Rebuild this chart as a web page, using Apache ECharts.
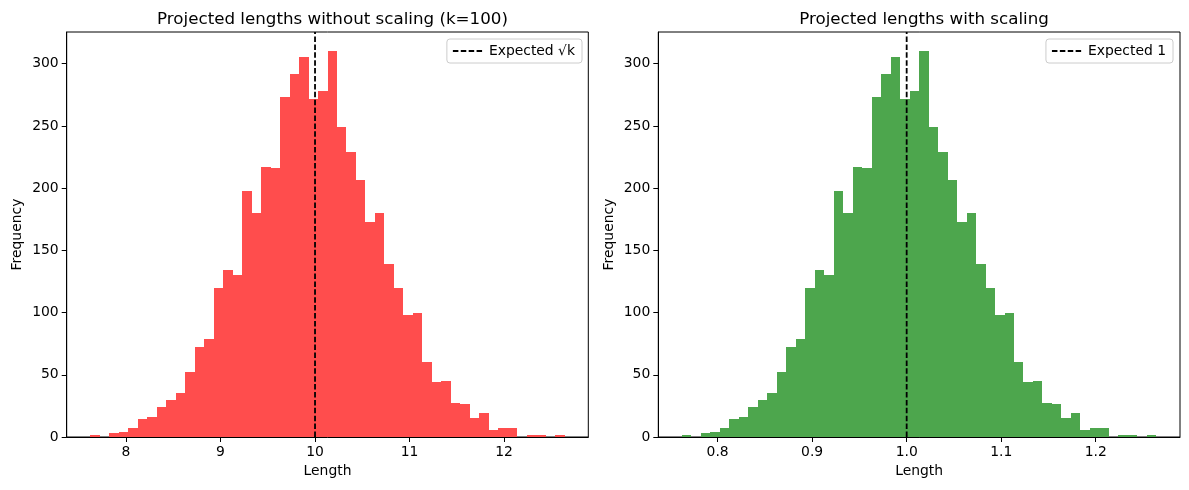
<!DOCTYPE html>
<html>
<head>
<meta charset="utf-8">
<script src="https://cdn.jsdelivr.net/npm/echarts@6/dist/echarts.min.js"></script>
<style>
  html, body { margin: 0; padding: 0; background: #fff; }
  #chart { width: 1189px; height: 490px; }
</style>
</head>
<body>
<div id="chart"></div>
<script>
  // histogram counts, 50 bins (same samples, right panel is divided by sqrt(k)=10)
  var counts = [1, 0, 3, 4, 7, 14, 16, 24, 29, 35,
    52, 72, 78, 119, 134, 130, 197, 180, 217, 216,
    273, 291, 305, 271, 278, 310, 249, 229, 206, 172,
    180, 139, 119, 98, 99, 60, 44, 45, 27, 26,
    15, 19, 5, 7, 7, 0, 1, 1, 0, 1];
  var rawStart = 7.623, rawWidth = 0.10036;
  var scaledStart = 0.7623, scaledWidth = 0.010036;
  var rawTicks = [8, 9, 10, 11, 12];
  var scaledTicks = [0.8, 0.9, 1.0, 1.1, 1.2];
  var yTicks = [0, 50, 100, 150, 200, 250, 300];
  var rawExpected = 10, scaledExpected = 1;
  var titles = ['Projected lengths without scaling (k=100)', 'Projected lengths with scaling'];
  var legendNames = ['Expected \u221ak', 'Expected 1'];

  var FONT = 'DejaVu Sans';
  var chart = echarts.init(document.getElementById('chart'), null, { renderer: 'canvas' });

  function bins(start, width) {
    return counts.map(function (c, i) {
      return [start + i * width, start + (i + 1) * width, c];
    });
  }

  function xRange(start, width) {
    var lo = start, hi = start + counts.length * width;
    var pad = 0.05 * (hi - lo);
    return [lo - pad, hi + pad];
  }

  var yMax = Math.max.apply(null, counts) * 1.05;

  // one rect per bin; edges snapped to whole pixels so neighbours touch without seams
  function renderBar(params, api) {
    if (!api.value(2)) return null;
    var p0 = api.coord([api.value(0), api.value(2)]);
    var p1 = api.coord([api.value(1), 0]);
    var x0 = Math.round(p0[0]), x1 = Math.round(p1[0]);
    var top = Math.floor(p0[1]);
    return {
      type: 'rect',
      shape: { x: x0, y: top, width: x1 - x0, height: p1[1] - top },
      style: api.style()
    };
  }

  function xAxis(idx, range, ticks, fmt) {
    return {
      type: 'value', gridIndex: idx, min: range[0], max: range[1],
      name: 'Length', nameLocation: 'middle', nameGap: 27,
      nameTextStyle: { fontFamily: FONT, fontSize: 13.9, color: '#000' },
      axisLine: { show: true, lineStyle: { color: '#000', width: 1 } },
      axisTick: { show: true, length: 5, customValues: ticks, lineStyle: { color: '#000', width: 1 } },
      axisLabel: { customValues: ticks, margin: 8, fontFamily: FONT, fontSize: 13.9, color: '#000', formatter: fmt },
      splitLine: { show: false }
    };
  }

  function yAxis(idx) {
    return {
      type: 'value', gridIndex: idx, min: 0, max: yMax,
      name: 'Frequency', nameLocation: 'middle', nameGap: 42,
      nameTextStyle: { fontFamily: FONT, fontSize: 13.9, color: '#000' },
      axisLine: { show: true, lineStyle: { color: '#000', width: 1 } },
      axisTick: { show: true, length: 5, customValues: yTicks, lineStyle: { color: '#000', width: 1 } },
      axisLabel: { customValues: yTicks, margin: 8, fontFamily: FONT, fontSize: 13.9, color: '#000' },
      splitLine: { show: false }
    };
  }

  var rawRange = xRange(rawStart, rawWidth);
  var scaledRange = xRange(scaledStart, scaledWidth);

  var option = {
    animation: false,
    backgroundColor: '#fff',
    title: [
      { text: titles[0], left: 327.5, top: 6, textAlign: 'center',
        textStyle: { fontFamily: FONT, fontSize: 16.7, fontWeight: 'normal', color: '#000' } },
      { text: titles[1], left: 919, top: 6, textAlign: 'center',
        textStyle: { fontFamily: FONT, fontSize: 16.7, fontWeight: 'normal', color: '#000' } }
    ],
    legend: [
      { data: [legendNames[0]], right: 607, top: 39 },
      { data: [legendNames[1]], right: 16, top: 39 }
    ].map(function (l) {
      return Object.assign(l, {
        orient: 'vertical', itemWidth: 31, itemHeight: 14, itemGap: 6,
        padding: [5, 7, 5, 5],
        borderColor: '#ccc', borderWidth: 1, borderRadius: 3, backgroundColor: 'rgba(255,255,255,0.8)',
        itemStyle: { opacity: 0 },
        textStyle: { fontFamily: FONT, fontSize: 13.9, color: '#000' }
      });
    }),
    grid: [
      { left: 66.7, right: 600.7, top: 32, bottom: 53, show: true, borderColor: '#000', borderWidth: 1 },
      { left: 658.3, right: 9, top: 32, bottom: 53, show: true, borderColor: '#000', borderWidth: 1 }
    ],
    xAxis: [
      xAxis(0, rawRange, rawTicks, function (v) { return String(v); }),
      xAxis(1, scaledRange, scaledTicks, function (v) { return v.toFixed(1); })
    ],
    yAxis: [yAxis(0), yAxis(1)],
    series: [
      { type: 'custom', xAxisIndex: 0, yAxisIndex: 0, renderItem: renderBar,
        itemStyle: { color: 'rgb(255,77,77)' }, encode: { x: [0, 1], y: 2 },
        data: bins(rawStart, rawWidth) },
      { type: 'custom', xAxisIndex: 1, yAxisIndex: 1, renderItem: renderBar,
        itemStyle: { color: 'rgb(77,166,77)' }, encode: { x: [0, 1], y: 2 },
        data: bins(scaledStart, scaledWidth) },
      { type: 'line', name: legendNames[0], xAxisIndex: 0, yAxisIndex: 0, z: 5,
        symbol: 'none', silent: true,
        lineStyle: { color: '#000', width: 1.8, type: [5.5, 2.4] },
        itemStyle: { color: '#000' },
        data: [[rawExpected, 0], [rawExpected, yMax]] },
      { type: 'line', name: legendNames[1], xAxisIndex: 1, yAxisIndex: 1, z: 5,
        symbol: 'none', silent: true,
        lineStyle: { color: '#000', width: 1.8, type: [5.5, 2.4] },
        itemStyle: { color: '#000' },
        data: [[scaledExpected, 0], [scaledExpected, yMax]] }
    ]
  };

  chart.setOption(option);
</script>
</body>
</html>
